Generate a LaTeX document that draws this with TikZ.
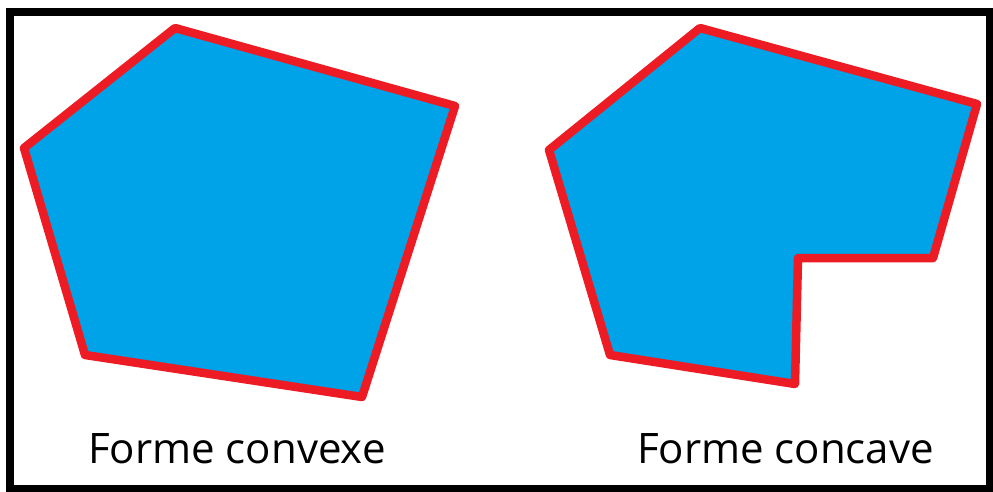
\documentclass[tikz,border=0pt]{standalone}
\usepackage{fontspec}
\setmainfont{Open Sans}
\definecolor{shapeblue}{HTML}{00A2E8}
\definecolor{shapered}{HTML}{ED1C24}
\begin{document}
\begin{tikzpicture}[x=1pt,y=-1pt,
  poly/.style={fill=shapeblue,draw=shapered,line width=8.5pt,line join=round},
  lbl/.style={font=\fontsize{42}{50}\selectfont,anchor=base,inner sep=0pt,text=black}]
\useasboundingbox (0,0) rectangle (993,492);
\fill[white] (0,0) rectangle (993,492);
\draw[line width=8pt] (10,12) rectangle (989.5,489);
% convex
\coordinate (a1) at (175,28);
\coordinate (a2) at (455,106);
\coordinate (a3) at (362,397);
\coordinate (a4) at (85,355);
\coordinate (a5) at (24,148);
\draw[poly] (a1) -- (a2) -- (a3) -- (a4) -- (a5) -- cycle;
% concave
\coordinate (b1) at (700,28);
\coordinate (b2) at (977,104);
\coordinate (b3) at (933,258);
\coordinate (b4) at (798,258);
\coordinate (b5) at (795,384);
\coordinate (b6) at (610,355);
\coordinate (b7) at (549,150);
\draw[poly] (b1) -- (b2) -- (b3) -- (b4) -- (b5) -- (b6) -- (b7) -- cycle;
\node[lbl] (t1) at (237,463) {Forme convexe};
\node[lbl] (t2) at (785.5,463) {Forme concave};
\end{tikzpicture}
\end{document}
